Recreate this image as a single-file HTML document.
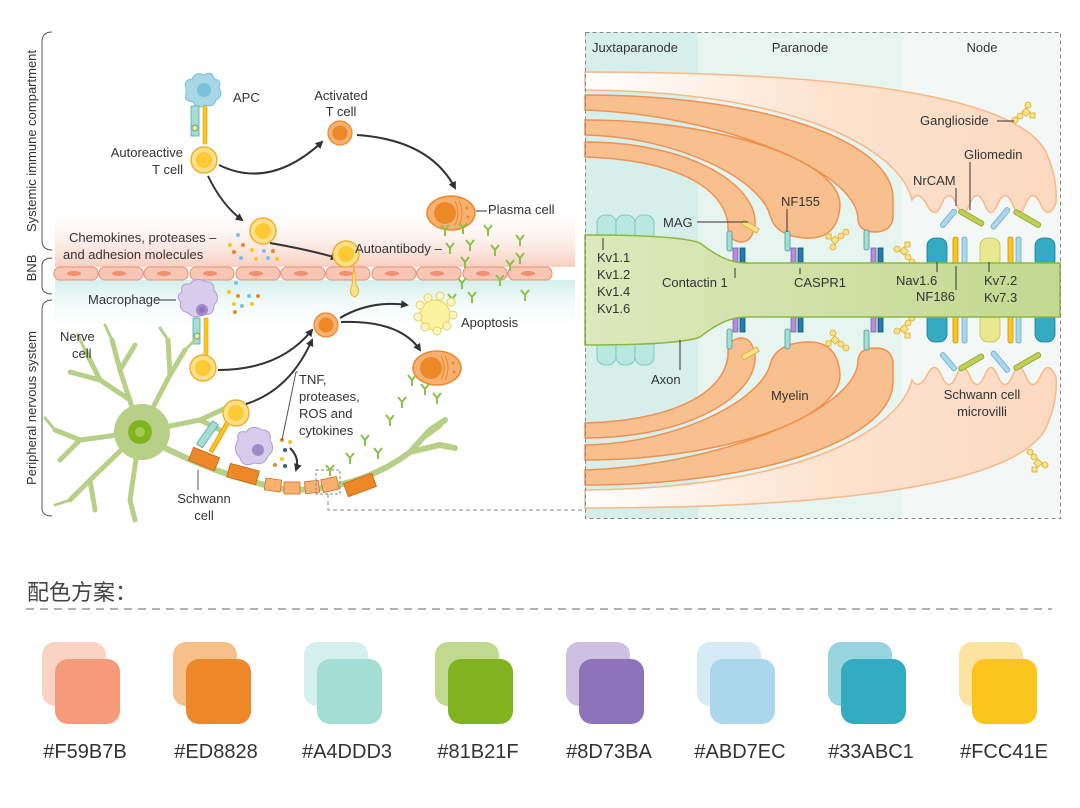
<!DOCTYPE html>
<html><head><meta charset="utf-8"><style>
html,body{margin:0;padding:0;background:#fff;}
svg{display:block;}
text{font-family:"Liberation Sans","Noto Sans CJK SC",sans-serif;fill:#333;}
</style></head><body>
<svg width="1080" height="808" viewBox="0 0 1080 808" xmlns="http://www.w3.org/2000/svg">
<defs>
<marker id="ar" markerWidth="8" markerHeight="8" refX="6" refY="4" orient="auto" markerUnits="userSpaceOnUse"><path d="M0,0 L8,4 L0,8 Z" fill="#333"/></marker>
<linearGradient id="bnb" x1="0" y1="0" x2="0" y2="1"><stop offset="0" stop-color="#fff" stop-opacity="0"/><stop offset="1" stop-color="#f8cfc0"/></linearGradient>
<linearGradient id="bnb2" x1="0" y1="0" x2="0" y2="1"><stop offset="0" stop-color="#d3efec"/><stop offset="1" stop-color="#fff" stop-opacity="0"/></linearGradient>
<linearGradient id="env" x1="0" y1="0" x2="1" y2="0"><stop offset="0" stop-color="#fff"/><stop offset="0.5" stop-color="#fde3d0"/><stop offset="1" stop-color="#fcd9c0"/></linearGradient>
<linearGradient id="axg" x1="0" y1="0" x2="1" y2="0"><stop offset="0" stop-color="#dde9bd"/><stop offset="1" stop-color="#c2d88e"/></linearGradient>
<g id="tc"><circle r="13" fill="#fce08a" stroke="#f0b030" stroke-width="1.5"/><circle r="8" fill="#fcc41e" opacity="0.8"/></g>
<g id="oc"><circle r="12" fill="#f8b070" stroke="#ed8828" stroke-width="1.2"/><circle r="7.5" fill="#ed8828"/></g>
<g id="pc"><ellipse rx="24" ry="17" fill="#f8b070" stroke="#ed8828" stroke-width="1.5"/><circle cx="-6" r="11" fill="#ed8828"/><path d="M4,-12 Q10,0 4,12 M8,-12 Q14,0 8,12" stroke="#ed8828" fill="none"/><circle cx="16" cy="-5" r="1.5" fill="#ed8828"/><circle cx="17" cy="4" r="1.5" fill="#ed8828"/></g>
<g id="ab" stroke="#8cc04a" stroke-width="2" fill="none"><path d="M0,6 L0,0 L-4,-5 M0,0 L4,-5"/></g>
<g id="gang" fill="#fce08a" stroke="#d8b030" stroke-width="0.8"><circle cx="0" cy="0" r="3"/><circle cx="5" cy="-4" r="3"/><rect x="8" y="-11" width="6" height="6" transform="rotate(45 11 -8)"/><circle cx="13" cy="-15" r="3"/><rect x="15" y="-7" width="5" height="5"/></g>
</defs>

<!-- LEFT PANEL -->
<rect x="55" y="205" width="520" height="62" fill="url(#bnb)"/>
<rect x="55" y="280" width="520" height="55" fill="url(#bnb2)"/>
<g fill="#f8c6b4" stroke="#e8907a" stroke-width="1">
<rect x="54" y="267" width="44" height="13" rx="6"/><rect x="99" y="267" width="44" height="13" rx="6"/><rect x="144" y="267" width="44" height="13" rx="6"/><rect x="190" y="267" width="44" height="13" rx="6"/><rect x="236" y="267" width="44" height="13" rx="6"/><rect x="281" y="267" width="44" height="13" rx="6"/><rect x="326" y="267" width="44" height="13" rx="6"/><rect x="372" y="267" width="44" height="13" rx="6"/><rect x="417" y="267" width="44" height="13" rx="6"/><rect x="463" y="267" width="44" height="13" rx="6"/><rect x="508" y="267" width="44" height="13" rx="6"/>
</g>
<g fill="#f09070"><ellipse cx="74" cy="273.5" rx="7" ry="2.5"/><ellipse cx="119" cy="273.5" rx="7" ry="2.5"/><ellipse cx="164" cy="273.5" rx="7" ry="2.5"/><ellipse cx="210" cy="273.5" rx="7" ry="2.5"/><ellipse cx="256" cy="273.5" rx="7" ry="2.5"/><ellipse cx="301" cy="273.5" rx="7" ry="2.5"/><ellipse cx="346" cy="273.5" rx="7" ry="2.5"/><ellipse cx="392" cy="273.5" rx="7" ry="2.5"/><ellipse cx="437" cy="273.5" rx="7" ry="2.5"/><ellipse cx="483" cy="273.5" rx="7" ry="2.5"/><ellipse cx="528" cy="273.5" rx="7" ry="2.5"/></g>

<!-- brackets -->
<g stroke="#555" fill="none" stroke-width="1">
<path d="M52,32 Q42,32 42,42 L42,240 Q42,250 52,250"/>
<path d="M52,258 Q42,258 42,266 L42,286 Q42,294 52,294"/>
<path d="M52,300 Q42,300 42,310 L42,508 Q42,516 52,516"/>
</g>
<text transform="translate(36,141) rotate(-90)" font-size="13" text-anchor="middle">Systemic immune compartment</text>
<text transform="translate(36,268) rotate(-90)" font-size="13" text-anchor="middle">BNB</text>
<text transform="translate(36,408) rotate(-90)" font-size="13" text-anchor="middle">Peripheral nervous system</text>

<!-- APC -->
<path d="M186,88 Q183,80 192,79 Q196,71 204,75 Q212,70 214,79 Q222,80 219,88 Q224,96 216,100 Q214,108 205,105 Q197,110 193,102 Q183,101 186,94 Z" fill="#a8d8e8" stroke="#7cc0d8"/>
<circle cx="204" cy="90" r="7" fill="#7cc0d8"/>
<rect x="191" y="106" width="8" height="30" fill="#a4ddd3" stroke="#5aa" stroke-width="0.8"/>
<rect x="203" y="106" width="4" height="38" fill="#fcc41e" stroke="#e8a010" stroke-width="0.6"/>
<circle cx="195" cy="128" r="3" fill="#fce08a" stroke="#5aa"/>
<use href="#tc" x="204" y="160"/>
<text x="233" y="102" font-size="13">APC</text>
<text x="183" y="157" font-size="13" text-anchor="end">Autoreactive</text>
<text x="183" y="174" font-size="13" text-anchor="end">T cell</text>
<text x="341" y="100" font-size="13" text-anchor="middle">Activated</text>
<text x="341" y="116" font-size="13" text-anchor="middle">T cell</text>
<use href="#oc" x="340" y="133"/>
<path d="M219,165 Q270,190 322,142" stroke="#333" stroke-width="2" fill="none" marker-end="url(#ar)"/>
<path d="M357,135 Q430,140 455,188" stroke="#333" stroke-width="2" fill="none" marker-end="url(#ar)"/>
<use href="#pc" x="451" y="213"/>
<text x="488" y="214" font-size="13">Plasma cell</text>
<path d="M476,211 L487,211" stroke="#333"/>
<path d="M208,176 Q222,205 242,220" stroke="#333" stroke-width="2" fill="none" marker-end="url(#ar)"/>
<use href="#tc" x="263" y="231"/>
<path d="M270,243 Q310,250 337,258" stroke="#333" stroke-width="2" fill="none" marker-end="url(#ar)"/>
<use href="#tc" x="346" y="254"/>
<path d="M354,265 L356,285 Q362,292 355,297 Q348,295 352,285 Z" fill="#fce08a" stroke="#f0b030"/>
<text x="69" y="242" font-size="13">Chemokines, proteases –</text>
<text x="63" y="259" font-size="13">and adhesion molecules</text>
<text x="355" y="253" font-size="13">Autoantibody –</text>
<g>
<circle cx="238" cy="235" r="2" fill="#7cc0e8"/><circle cx="230" cy="245" r="2" fill="#fcc41e"/><circle cx="243" cy="245" r="2" fill="#ed8828"/><circle cx="252" cy="250" r="2" fill="#fcc41e"/><circle cx="264" cy="251" r="2" fill="#7cc0e8"/><circle cx="273" cy="251" r="2" fill="#ed8828"/><circle cx="234" cy="252" r="2" fill="#ed8828"/><circle cx="241" cy="258" r="2" fill="#7cc0e8"/><circle cx="256" cy="259" r="2" fill="#fcc41e"/><circle cx="268" cy="258" r="2" fill="#7cc0e8"/><circle cx="277" cy="259" r="2" fill="#fcc41e"/>
<circle cx="236" cy="283" r="2" fill="#7cc0e8"/><circle cx="229" cy="292" r="2" fill="#fcc41e"/><circle cx="238" cy="296" r="2" fill="#ed8828"/><circle cx="249" cy="296" r="2" fill="#7cc0e8"/><circle cx="258" cy="296" r="2" fill="#ed8828"/><circle cx="234" cy="304" r="2" fill="#fcc41e"/><circle cx="242" cy="306" r="2" fill="#7cc0e8"/><circle cx="252" cy="304" r="2" fill="#fcc41e"/><circle cx="235" cy="312" r="2" fill="#ed8828"/>
</g>
<use href="#ab" x="445" y="230"/><use href="#ab" x="463" y="228"/><use href="#ab" x="470" y="245"/><use href="#ab" x="450" y="248"/><use href="#ab" x="465" y="262"/><use href="#ab" x="462" y="283"/><use href="#ab" x="452" y="299"/><use href="#ab" x="472" y="297"/>
<use href="#ab" x="488" y="230"/><use href="#ab" x="495" y="250"/><use href="#ab" x="520" y="240"/><use href="#ab" x="510" y="265"/><use href="#ab" x="520" y="258"/><use href="#ab" x="500" y="280"/><use href="#ab" x="525" y="295"/>

<!-- Macrophage -->
<path d="M182,292 Q180,283 190,284 Q196,276 206,282 Q214,281 214,290 Q221,298 214,305 Q214,316 204,314 Q195,320 188,313 Q178,310 181,302 Q175,296 182,292 Z" fill="#d8ccec" stroke="#b0a0d4"/>
<circle cx="202" cy="310" r="6" fill="#a08ac8"/><circle cx="202" cy="310" r="3" fill="#8d73ba"/>
<text x="88" y="304" font-size="13">Macrophage</text>
<path d="M154,300 L176,300" stroke="#333"/>
<rect x="193" y="318" width="7" height="26" fill="#a4ddd3" stroke="#5aa" stroke-width="0.8"/>
<rect x="204" y="318" width="4" height="40" fill="#fcc41e" stroke="#e8a010" stroke-width="0.6"/>
<circle cx="197" cy="336" r="3" fill="#fce08a" stroke="#5aa"/>
<use href="#tc" x="203" y="368"/>
<path d="M218,370 Q280,370 312,330" stroke="#333" stroke-width="2" fill="none" marker-end="url(#ar)"/>
<use href="#oc" x="326" y="325"/>
<path d="M340,318 Q370,300 407,305" stroke="#333" stroke-width="2" fill="none" marker-end="url(#ar)"/>
<path d="M341,322 Q400,320 420,350" stroke="#333" stroke-width="2" fill="none" marker-end="url(#ar)"/>
<g fill="#fdf6c8" stroke="#e8d060" stroke-width="1"><circle cx="435" cy="315" r="15" fill="#fcf2a0"/><circle cx="420" cy="305" r="4"/><circle cx="428" cy="298" r="4"/><circle cx="440" cy="296" r="4"/><circle cx="451" cy="302" r="4"/><circle cx="453" cy="315" r="4"/><circle cx="447" cy="326" r="4"/><circle cx="437" cy="331" r="4"/><circle cx="425" cy="327" r="4"/><circle cx="418" cy="317" r="4"/></g>
<text x="461" y="327" font-size="13">Apoptosis</text>
<use href="#pc" x="437" y="368"/>
<use href="#ab" x="412" y="380"/><use href="#ab" x="425" y="389"/><use href="#ab" x="437" y="398"/><use href="#ab" x="402" y="402"/><use href="#ab" x="390" y="420"/>
<use href="#ab" x="365" y="440"/><use href="#ab" x="378" y="453"/><use href="#ab" x="350" y="458"/><use href="#ab" x="330" y="470"/>

<!-- Neuron -->
<g stroke="#b8cf88" fill="none" stroke-linecap="round">
<path d="M140,432 L120,370 L112,340 M120,370 L135,345 M130,400 L100,380 L85,350 M100,380 L70,372" stroke-width="5"/>
<path d="M140,432 L80,440 L55,430 M80,440 L60,460 M140,432 L90,480 L70,500 M90,480 L95,510 M140,432 L130,500 L135,520 M140,432 L170,375 L168,340 M170,375 L185,350 M140,432 L200,420 L228,407 M200,420 L220,430" stroke-width="5"/>
<path d="M112,340 L105,325 M85,350 L78,335 M55,430 L45,418 M70,500 L55,505 M168,340 L160,328 M185,350 L195,340 M228,407 L240,402" stroke-width="3"/>
<path d="M165,448 Q230,480 290,490 Q360,490 410,452 L430,430 L445,420 M410,452 L440,445 L455,448 M425,436 L440,425" stroke-width="6"/>
</g>
<circle cx="142" cy="432" r="28" fill="#b8cf88"/>
<circle cx="140" cy="432" r="12" fill="#81b21f"/><circle cx="140" cy="432" r="5" fill="#a4cc50"/>
<text x="60" y="341" font-size="13">Nerve</text><text x="72" y="358" font-size="13">cell</text>
<!-- myelin segments -->
<g fill="#ed8828" stroke="#c86010" stroke-width="0.8">
<rect x="190" y="452" width="28" height="14" transform="rotate(22 204 459)"/>
<rect x="228" y="467" width="30" height="14" transform="rotate(15 243 474)"/>
<rect x="345" y="478" width="30" height="14" transform="rotate(-20 360 485)"/>
</g>
<g fill="#f8b070" stroke="#d07020" stroke-width="0.8">
<rect x="265" y="479" width="16" height="12" transform="rotate(8 273 485)"/>
<rect x="284" y="482" width="16" height="12"/>
<rect x="305" y="481" width="14" height="12" transform="rotate(-6 312 487)"/>
<rect x="322" y="478" width="16" height="13" transform="rotate(-12 330 485)"/>
</g>
<rect x="316" y="470" width="24" height="24" fill="none" stroke="#888" stroke-dasharray="3,2"/>
<path d="M328,494 L328,510 L585,510" stroke="#888" stroke-dasharray="4,3" fill="none"/>
<!-- bottom T cell & macrophage -->
<rect x="204" y="420" width="7" height="28" fill="#a4ddd3" stroke="#5aa" stroke-width="0.8" transform="rotate(35 207 434)"/>
<rect x="218" y="418" width="4" height="36" fill="#fcc41e" stroke="#e8a010" transform="rotate(30 220 436)"/>
<use href="#tc" x="236" y="413"/>
<path d="M246,404 Q290,390 312,340" stroke="#333" stroke-width="2" fill="none" marker-end="url(#ar)"/>
<path d="M238,440 Q236,430 246,432 Q252,424 262,430 Q272,430 270,440 Q276,450 268,456 Q265,466 254,463 Q243,468 240,458 Q232,450 238,440 Z" fill="#d8ccec" stroke="#b0a0d4"/>
<circle cx="258" cy="450" r="6" fill="#a08ac8"/>
<circle cx="282" cy="440" r="2" fill="#ed8828"/><circle cx="290" cy="442" r="2" fill="#fcc41e"/><circle cx="285" cy="450" r="2" fill="#33607a"/><circle cx="282" cy="459" r="2" fill="#fcc41e"/><circle cx="275" cy="465" r="2" fill="#ed8828"/><circle cx="285" cy="466" r="2" fill="#33607a"/>
<path d="M290,448 Q300,458 296,470" stroke="#333" stroke-width="2" fill="none" marker-end="url(#ar)"/>
<path d="M298,372 L296,372 L282,440" stroke="#555" fill="none"/>
<text x="299" y="384" font-size="13">TNF,</text><text x="299" y="401" font-size="13">proteases,</text><text x="299" y="418" font-size="13">ROS and</text><text x="299" y="435" font-size="13">cytokines</text>
<path d="M198,470 L198,490" stroke="#555"/>
<text x="204" y="503" font-size="13" text-anchor="middle">Schwann</text><text x="204" y="520" font-size="13" text-anchor="middle">cell</text>

<!-- RIGHT PANEL -->
<rect x="585" y="32" width="113" height="486" fill="#d7efea"/>
<rect x="698" y="32" width="204" height="486" fill="#e7f5f1"/>
<rect x="902" y="32" width="158" height="486" fill="#f3f8f6"/>
<text x="592" y="52" font-size="13">Juxtaparanode</text>
<text x="800" y="52" font-size="13" text-anchor="middle">Paranode</text>
<text x="982" y="52" font-size="13" text-anchor="middle">Node</text>

<g id="myel">
<path d="M585,72 C820,72 1010,92 1045,150 Q1058,178 1056,203 Q1048,222 1040,203 Q1033,188 1026,203 Q1019,222 1012,203 Q1005,188 998,203 Q991,222 984,203 Q977,188 970,203 Q963,222 956,203 Q949,188 942,203 Q935,222 926,203 Q918,190 912,200 C900,150 800,92 585,90 Z" fill="url(#env)" stroke="#f8b888" stroke-width="1.5"/>
<path d="M585,95 C760,95 895,140 893,200 L893,218 Q891,232 875,232 Q858,232 858,218 C855,170 720,115 585,110 Z" fill="#f8c08f" stroke="#f09050" stroke-width="1.5"/>
<path d="M585,120 C720,120 840,160 840,205 Q838,240 805,238 Q775,236 770,215 C760,180 680,137 585,135 Z" fill="#f8c08f" stroke="#f09050" stroke-width="1.5"/>
<path d="M585,142 C690,142 758,185 755,225 Q752,243 740,242 Q727,240 728,225 C725,190 680,160 585,157 Z" fill="#f8c08f" stroke="#f09050" stroke-width="1.5"/>
<!-- paranode proteins -->
<g stroke-width="0.8">
<rect x="727" y="231" width="5" height="20" rx="2" fill="#a4ddd3" stroke="#4a9a9a"/><rect x="733" y="248" width="5" height="20" fill="#b090d8" stroke="#8060a8"/><rect x="740" y="248" width="5" height="20" fill="#2080a8" stroke="#105070"/>
<rect x="785" y="231" width="5" height="20" rx="2" fill="#a4ddd3" stroke="#4a9a9a"/><rect x="791" y="248" width="5" height="20" fill="#b090d8" stroke="#8060a8"/><rect x="798" y="248" width="5" height="20" fill="#2080a8" stroke="#105070"/>
<rect x="864" y="230" width="5" height="20" rx="2" fill="#a4ddd3" stroke="#4a9a9a"/><rect x="871" y="248" width="5" height="20" fill="#b090d8" stroke="#8060a8"/><rect x="878" y="248" width="5" height="20" fill="#2080a8" stroke="#105070"/>
<rect x="748" y="218" width="5" height="18" fill="#fce08a" stroke="#d0b030" transform="rotate(-60 750 227)"/>
<!-- kv1 -->
<rect x="597" y="215" width="19" height="29" rx="8" fill="#b8e8e0" stroke="#70c0b8"/><rect x="616" y="215" width="19" height="29" rx="8" fill="#b8e8e0" stroke="#70c0b8"/><rect x="635" y="215" width="19" height="29" rx="8" fill="#b8e8e0" stroke="#70c0b8"/>
<!-- node channels -->
<rect x="927" y="238" width="20" height="30" rx="8" fill="#33abc1" stroke="#1a7890"/>
<rect x="953" y="237" width="5" height="31" rx="2" fill="#fcc41e" stroke="#d09010"/>
<rect x="962" y="237" width="5" height="31" rx="2" fill="#abd7ec" stroke="#70a8c8"/>
<rect x="980" y="238" width="20" height="30" rx="8" fill="#e8e890" stroke="#c0c050"/>
<rect x="1008" y="237" width="5" height="31" rx="2" fill="#fcc41e" stroke="#d09010"/>
<rect x="1016" y="237" width="5" height="31" rx="2" fill="#abd7ec" stroke="#70a8c8"/>
<rect x="1035" y="238" width="20" height="30" rx="8" fill="#33abc1" stroke="#1a7890"/>
<rect x="946" y="207" width="5" height="22" rx="2" fill="#abd7ec" stroke="#70a8c8" transform="rotate(40 948 218)"/>
<rect x="969" y="204" width="5" height="28" rx="2" fill="#c0d050" stroke="#90a030" transform="rotate(-60 971 218)"/>
<rect x="998" y="205" width="5" height="26" rx="2" fill="#abd7ec" stroke="#70a8c8" transform="rotate(40 1000 218)"/>
<rect x="1025" y="204" width="5" height="30" rx="2" fill="#c0d050" stroke="#90a030" transform="rotate(-60 1027 219)"/>
</g>
<use href="#gang" x="830" y="222" transform="rotate(180 838 227) translate(0,0)"/>
<use href="#gang" x="912" y="262" transform="rotate(-90 912 262)"/>
</g>
<use href="#myel" transform="translate(0,580) scale(1,-1)"/>

<!-- axon -->
<path d="M585,235 Q680,235 700,243 Q725,263 745,263 L1060,263 L1060,317 L745,317 Q725,317 700,337 Q680,345 585,345 Z" fill="url(#axg)" stroke="#8cb840" stroke-width="1.5"/>
<use href="#gang" x="1015" y="120" />
<use href="#gang" x="1022" y="460" transform="rotate(90 1030 460)"/>

<g font-size="13">
<text x="920" y="125">Ganglioside</text><path d="M997,121 L1014,121" stroke="#333"/>
<text x="964" y="159">Gliomedin</text><path d="M970,162 L970,210" stroke="#333"/>
<text x="913" y="185">NrCAM</text><path d="M956,188 L956,206" stroke="#333"/>
<text x="781" y="206">NF155</text><path d="M787,209 L787,232" stroke="#333"/>
<text x="663" y="227">MAG</text><path d="M697,222 L748,222" stroke="#333"/>
<text x="597" y="262">Kv1.1</text><text x="597" y="279">Kv1.2</text><text x="597" y="296">Kv1.4</text><text x="597" y="313">Kv1.6</text>
<path d="M603,238 L603,250" stroke="#333"/>
<text x="662" y="287">Contactin 1</text><path d="M735,268 L735,278" stroke="#333"/>
<text x="794" y="287">CASPR1</text><path d="M800,268 L800,274" stroke="#333"/>
<text x="896" y="285">Nav1.6</text><path d="M937,262 L937,272" stroke="#333"/>
<text x="916" y="301">NF186</text><path d="M956,266 L956,290" stroke="#333"/>
<text x="984" y="285">Kv7.2</text><text x="984" y="302">Kv7.3</text><path d="M989,262 L989,272" stroke="#333"/>
<text x="651" y="384">Axon</text><path d="M680,340 L680,370" stroke="#333"/>
<text x="771" y="400">Myelin</text>
<text x="982" y="399" text-anchor="middle">Schwann cell</text><text x="982" y="416" text-anchor="middle">microvilli</text>
</g>
<rect x="585.5" y="32.5" width="475" height="486" fill="none" stroke="#888" stroke-dasharray="4,3"/>

<!-- PALETTE -->
<text x="27" y="600" font-size="22" fill="#444" style="fill:#444">配色方案：</text>
<line x1="26" y1="609" x2="1052" y2="609" stroke="#999" stroke-width="1.5" stroke-dasharray="8,6"/>
<g>
<rect x="42" y="642" width="64" height="64" rx="13" fill="#fbd3c4"/><rect x="55" y="659" width="65" height="65" rx="13" fill="#f59b7b"/>
<rect x="173" y="642" width="64" height="64" rx="13" fill="#f7bf8a"/><rect x="186" y="659" width="65" height="65" rx="13" fill="#ed8828"/>
<rect x="304" y="642" width="64" height="64" rx="13" fill="#d5f0ec"/><rect x="317" y="659" width="65" height="65" rx="13" fill="#a4ddd3"/>
<rect x="435" y="642" width="64" height="64" rx="13" fill="#bfd98e"/><rect x="448" y="659" width="65" height="65" rx="13" fill="#81b21f"/>
<rect x="566" y="642" width="64" height="64" rx="13" fill="#cdc0e0"/><rect x="579" y="659" width="65" height="65" rx="13" fill="#8d73ba"/>
<rect x="697" y="642" width="64" height="64" rx="13" fill="#d7ebf6"/><rect x="710" y="659" width="65" height="65" rx="13" fill="#abd7ec"/>
<rect x="828" y="642" width="64" height="64" rx="13" fill="#98d4e0"/><rect x="841" y="659" width="65" height="65" rx="13" fill="#33abc1"/>
<rect x="959" y="642" width="64" height="64" rx="13" fill="#fde3a0"/><rect x="972" y="659" width="65" height="65" rx="13" fill="#fcc41e"/>
</g>
<g font-size="20" text-anchor="middle">
<text x="85" y="758">#F59B7B</text><text x="216" y="758">#ED8828</text><text x="347" y="758">#A4DDD3</text><text x="478" y="758">#81B21F</text><text x="609" y="758">#8D73BA</text><text x="740" y="758">#ABD7EC</text><text x="871" y="758">#33ABC1</text><text x="1004" y="758">#FCC41E</text>
</g>
</svg>
</body></html>
